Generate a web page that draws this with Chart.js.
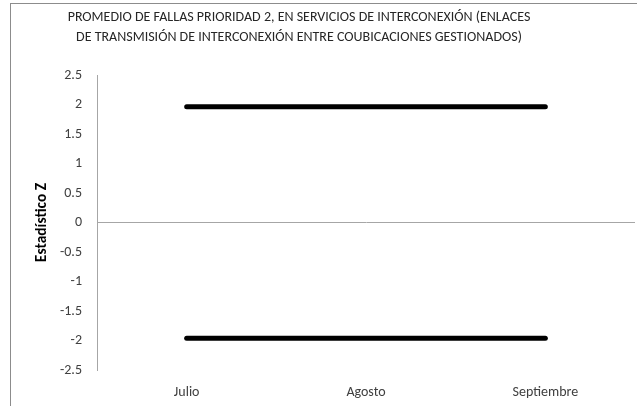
<!DOCTYPE html>
<html>
<head>
<meta charset="utf-8">
<script src="https://cdn.jsdelivr.net/npm/chart.js@4"></script>
<style>
    html, body { margin: 0; padding: 0; background: #fff; overflow: hidden; }
    #wrap { position: relative; width: 637px; height: 406px; }
    #frame {
        position: absolute; left: 10px; top: 3px; width: 700px; height: 500px;
        border: 1px solid #8c8c8c; pointer-events: none;
    }
    canvas { position: absolute; left: 0; top: 0; }
</style>
</head>
<body>
<div id="wrap">
    <div id="frame"></div>
    <canvas id="chart" width="637" height="406"></canvas>
</div>
<script>
const categories = ["Julio", "Agosto", "Septiembre"];
const upperLimit = [1.96, 1.96, 1.96];
const lowerLimit = [-1.96, -1.96, -1.96];
const yMin = -2.5;
const yMax = 2.5;
const yStep = 0.5;
const titleLines = [
    "PROMEDIO DE FALLAS PRIORIDAD 2, EN SERVICIOS DE INTERCONEXIÓN (ENLACES",
    "DE TRANSMISIÓN DE INTERCONEXIÓN ENTRE COUBICACIONES GESTIONADOS)"
];
const yTitle = "Estadístico Z";

const FONT = "Carlito, 'Liberation Sans Narrow', 'Liberation Sans', sans-serif";

// title centred a bit left of the canvas, like the original
const titlePlugin = {
    id: "titleText",
    afterDraw(chart) {
        const ctx = chart.ctx;
        ctx.save();
        ctx.fillStyle = "#262626";
        ctx.font = "14px " + FONT;
        ctx.textAlign = "center";
        ctx.textBaseline = "middle";
        titleLines.forEach((line, i) => ctx.fillText(line, 299, 17 + i * 20));
        ctx.restore();
    }
};

new Chart(document.getElementById("chart"), {
    type: "line",
    data: {
        labels: categories,
        datasets: [
            {
                label: "Límite superior",
                data: upperLimit,
                borderColor: "#000",
                borderWidth: 5,
                borderCapStyle: "round",
                pointRadius: 0,
                fill: false
            },
            {
                label: "Límite inferior",
                data: lowerLimit,
                borderColor: "#000",
                borderWidth: 5,
                borderCapStyle: "round",
                pointRadius: 0,
                fill: false
            }
        ]
    },
    options: {
        responsive: false,
        animation: false,
        layout: {
            padding: { top: 75, right: 2, bottom: 0, left: 0 }
        },
        plugins: {
            legend: { display: false },
            tooltip: { enabled: false }
        },
        scales: {
            x: {
                offset: true,
                grid: { display: false, drawTicks: false },
                border: { display: false },
                ticks: {
                    padding: 14,
                    color: "#404040",
                    font: { family: FONT, size: 14 }
                },
                afterFit(scale) { scale.height = 36; }
            },
            y: {
                min: yMin,
                max: yMax,
                grid: {
                    drawTicks: false,
                    color: c => (c.tick && c.tick.value === 0 ? "#a6a6a6" : "transparent")
                },
                border: { display: true, color: "#a6a6a6", width: 1 },
                ticks: {
                    stepSize: yStep,
                    padding: 15,
                    color: "#404040",
                    font: { family: FONT, size: 14 },
                    callback: v => String(v)
                },
                title: {
                    display: true,
                    text: yTitle,
                    color: "#000",
                    padding: 33,
                    font: { family: FONT, size: 15.5, weight: "bold" }
                },
                afterFit(scale) { scale.width = 97; }
            }
        }
    },
    plugins: [titlePlugin]
});
</script>
</body>
</html>
